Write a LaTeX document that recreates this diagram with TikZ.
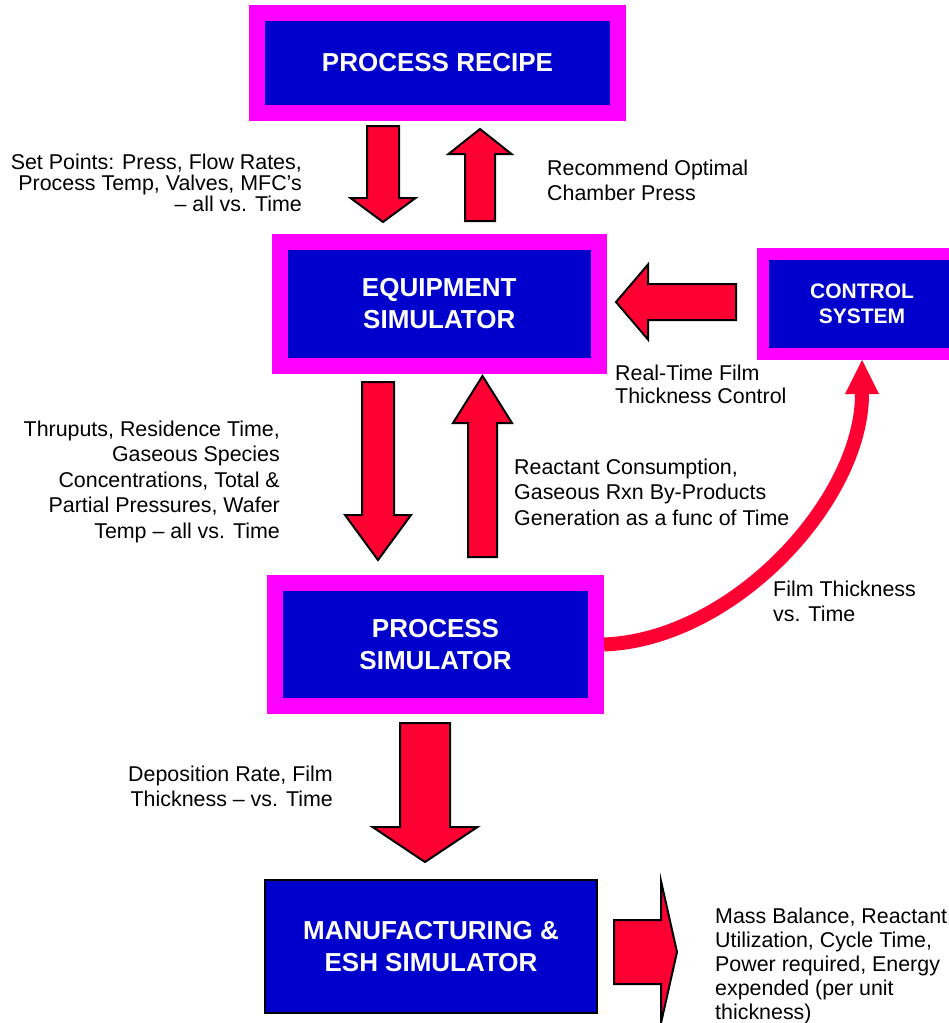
\documentclass[tikz,border=0pt]{standalone}
\usepackage{fontspec}
\setmainfont{Liberation Sans}
\usetikzlibrary{calc,arrows.meta}
\definecolor{simblue}{RGB}{0,0,204}
\definecolor{simpink}{RGB}{255,0,255}
\definecolor{arrowred}{RGB}{255,0,51}
\tikzset{
  simbox/.style={draw=simpink,line width=16pt,fill=simblue,text=white,align=center,inner sep=0pt,
    font=\fontsize{26}{32}\selectfont\bfseries},
  note/.style={inner sep=0pt,font=\fontsize{21.4}{25.5}\selectfont},
  blockarrow/.style={fill=arrowred,draw=black,line width=2pt,line join=miter},
  filmflow/.style={draw=arrowred,line width=14pt,-{Triangle[length=34pt,width=34pt,line width=0pt]}}
}
% tail, tip, half shaft, half head, head length
\newcommand{\blockarr}[5]{%
  \coordinate (hb) at ($(#2)!#5!(#1)$);
  \filldraw[blockarrow] ($(#1)!#3!90:(#2)$) -- ($(hb)!#3!90:(#2)$) -- ($(hb)!#4!90:(#2)$) -- (#2)
    -- ($(hb)!#4!-90:(#2)$) -- ($(hb)!#3!-90:(#2)$) -- ($(#1)!#3!-90:(#2)$) -- cycle;}
\begin{document}
\begin{tikzpicture}[x=1pt,y=-1pt]
\useasboundingbox (0,0) rectangle (949,1023);
\clip (0,0) rectangle (949,1023);
\node[simbox,minimum width=361pt,minimum height=100pt](R) at (437.5,63) {PROCESS RECIPE};
\node[simbox,minimum width=319.5pt,minimum height=123.5pt](E) at (439.25,303.75) {EQUIPMENT\\SIMULATOR};
\node[simbox,line width=12pt,minimum width=198pt,minimum height=100.5pt,font=\fontsize{21}{25}\selectfont\bfseries](C) at (862,303.75) {CONTROL\\SYSTEM};
\node[simbox,minimum width=321pt,minimum height=123pt](P) at (435.5,644.5) {PROCESS\\SIMULATOR};
\node[simbox,draw=black,line width=2pt,minimum width=332pt,minimum height=133pt](M) at (431,946.5) {MANUFACTURING \&\\ESH SIMULATOR};
\coordinate(T1) at (383,126);   \coordinate(H1) at (383,222);
\coordinate(T2) at (480,221);   \coordinate(H2) at (480,129);
\coordinate(T3) at (736,302);   \coordinate(H3) at (616,302);
\coordinate(T4) at (378,382);   \coordinate(H4) at (378,560);
\coordinate(T5) at (482.5,557); \coordinate(H5) at (482.5,376);
\coordinate(T6) at (425,723);   \coordinate(H6) at (425,862);
\coordinate(T7) at (614,952);   \coordinate(H7) at (677,952);
\blockarr{T1}{H1}{16pt}{32.5pt}{24pt}
\blockarr{T2}{H2}{15pt}{31.5pt}{25pt}
\blockarr{T3}{H3}{18pt}{37.5pt}{32pt}
\blockarr{T4}{H4}{16pt}{33pt}{45pt}
\blockarr{T5}{H5}{14.5pt}{29.5pt}{47pt}
\blockarr{T6}{H6}{25pt}{52.5pt}{35pt}
\blockarr{T7}{H7}{32pt}{71pt}{16pt}
\draw[filmflow](P.east) .. controls +(130,-5) and +(0,140) .. (C.south);
\node[note,anchor=north east,align=right,font=\fontsize{21.4}{21}\selectfont](SP) at (302,153.5)
  {Set Points: Press, Flow Rates,\\Process Temp, Valves, MFC’s\\– all vs. Time};
\node[note,anchor=north west,align=left](RO) at (547,159.5) {Recommend Optimal\\Chamber Press};
\node[note,anchor=north west,align=left,font=\fontsize{21.4}{23}\selectfont](RT) at (615,364.5)
  {Real-Time Film\\Thickness Control};
\node[note,anchor=north east,align=right](TP) at (280,420.5)
  {Thruputs, Residence Time,\\Gaseous Species\\Concentrations, Total \&\\Partial Pressures, Wafer\\Temp – all vs. Time};
\node[note,anchor=north west,align=left](RC) at (514,458.5)
  {Reactant Consumption,\\Gaseous Rxn By-Products\\Generation as a func of Time};
\node[note,anchor=north west,align=left,font=\fontsize{21.4}{25}\selectfont](FT) at (773,580.5) {Film Thickness\\vs. Time};
\node[note,anchor=north east,align=right,font=\fontsize{21.4}{25}\selectfont](DR) at (333,765.5)
  {Deposition Rate, Film\\Thickness – vs. Time};
\node[note,anchor=north west,align=left,font=\fontsize{21.4}{24}\selectfont](MB) at (715,908)
  {Mass Balance, Reactant\\Utilization, Cycle Time,\\Power required, Energy\\expended (per unit\\thickness)};
\end{tikzpicture}
\end{document}
